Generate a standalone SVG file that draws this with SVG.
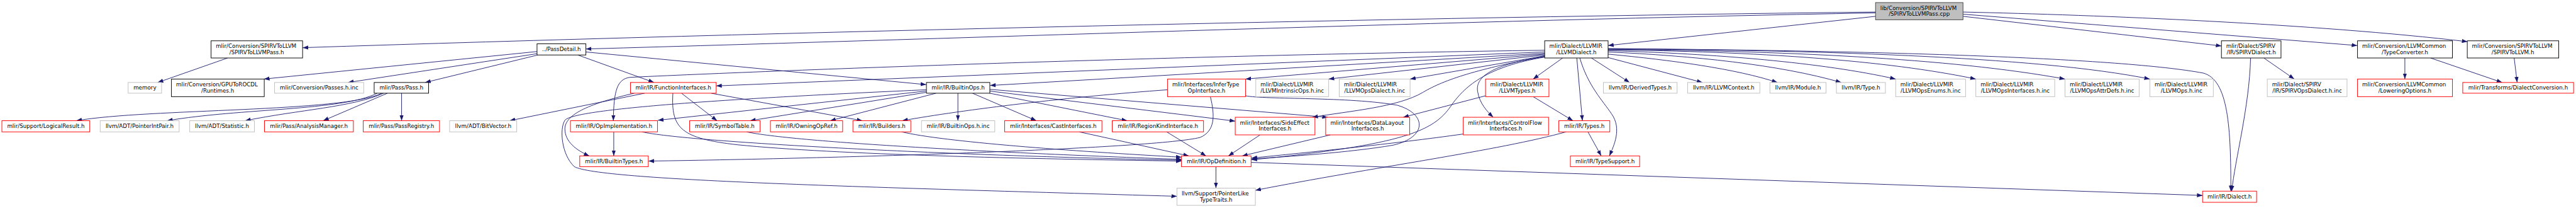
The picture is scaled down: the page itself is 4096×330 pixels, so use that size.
<svg xmlns="http://www.w3.org/2000/svg" width="4096" height="330" viewBox="0 0 4096 330">
<style>
.n rect{fill:#fff;stroke-width:1.4}
.r rect{stroke:#ff0000}
.g rect{stroke:#bfbfbf}
.b rect{stroke:#000}
.root rect{fill:#bfbfbf;stroke:#404040}
text{font-family:"DejaVu Sans",sans-serif;font-size:12.8px;fill:#000}
.m{text-anchor:middle}
#edges path{fill:none;stroke:#191970;stroke-width:1.35;marker-end:url(#a)}
</style>
<defs>
<marker id="a" viewBox="0 0 13 10" refX="13" refY="5" markerWidth="13" markerHeight="10" orient="auto" markerUnits="userSpaceOnUse"><path d="M0,0.3 L13,5 L0,9.7z" fill="#191970"/></marker>
</defs>
<rect width="4096" height="330" fill="#fff"/>
<g transform="scale(0.6815)">
<g id="edges">
<path d="M4376,28 C3300,40 1800,75 706,111"/>
<path d="M4376,30 C3400,48 2300,88 1367,114"/>
<path d="M4376,38 L3752,106"/>
<path d="M4580,38 L5183,107"/>
<path d="M4580,33 L5500,106"/>
<path d="M4580,28 C4900,35 5400,55 5757,97"/>
<path d="M531,135 L368,192"/>
<path d="M1253,120 L616,184"/>
<path d="M1253,125 L812,192"/>
<path d="M1255,128 L992,192"/>
<path d="M1348,128 L1526,192"/>
<path d="M1367,121 L2161,197"/>
<path d="M891,217 C800,262 350,252 178,281"/>
<path d="M880,217 C800,258 560,252 390,281"/>
<path d="M895,217 C820,250 700,255 572,281"/>
<path d="M904,217 L754,281"/>
<path d="M937,217 L937,281"/>
<path d="M1504,217 L1189,281"/>
<path d="M1480,217 C1380,240 1318,265 1318,300 C1318,330 1345,350 1375,363"/>
<path d="M1570,217 C1565,300 1590,322 1720,337 C1950,360 2400,370 2757,375"/>
<path d="M1590,217 L1673,281"/>
<path d="M1659,217 L2012,281"/>
<path d="M3604,117 C2800,128 1900,160 1470,180 C1440,184 1432,210 1431,281"/>
<path d="M3604,121 L1671,200"/>
<path d="M3604,124 L2310,199"/>
<path d="M3604,126 L2906,184"/>
<path d="M3604,128 L3100,184"/>
<path d="M3604,130 L3290,184"/>
<path d="M3604,131 C3450,160 3370,185 3320,215 C3260,250 3150,258 3062,273"/>
<path d="M3604,132 C3480,150 3440,180 3448,215 C3452,240 3470,260 3484,273"/>
<path d="M3604,133 C3470,155 3420,200 3390,240 C3350,300 3300,335 2920,372"/>
<path d="M3646,135 L3577,184"/>
<path d="M3679,135 L3692,281"/>
<path d="M3686,135 C3705,200 3740,235 3760,265 C3785,300 3765,340 3755,363"/>
<path d="M3577,225 L3670,281"/>
<path d="M3705,307 L3736,363"/>
<path d="M3654,307 C3500,350 3200,390 2929,443"/>
<path d="M3466,223 L3274,273"/>
<path d="M3414,312 C3250,335 3050,355 2920,368"/>
<path d="M2906,223 C2950,232 3150,225 3260,245 C3330,265 3330,320 3250,338 C3150,355 3000,365 2920,370"/>
<path d="M2724,209 C2500,225 2250,255 2105,281"/>
<path d="M2824,225 C2835,270 2835,305 2800,320 C2700,345 2000,368 1513,375"/>
<path d="M2235,217 L2235,281"/>
<path d="M2269,217 L2418,281"/>
<path d="M2309,217 L2630,281"/>
<path d="M2309,212 L2882,282"/>
<path d="M2309,208 L3098,273"/>
<path d="M2161,212 L1535,280"/>
<path d="M2161,215 L1750,281"/>
<path d="M2184,217 L1937,281"/>
<path d="M2161,209 C1800,225 1340,250 1318,280 C1305,300 1310,360 1340,388 C1400,420 2000,435 2746,457"/>
<path d="M2104,307 C2200,330 2500,352 2757,366"/>
<path d="M1742,307 C1850,330 2300,355 2757,371"/>
<path d="M1498,307 C1600,330 2200,362 2757,373"/>
<path d="M1432,307 L1432,363"/>
<path d="M2518,307 L2774,363"/>
<path d="M2722,307 L2814,363"/>
<path d="M2940,314 L2866,363"/>
<path d="M3104,314 L2898,363"/>
<path d="M2837,388 L2837,438"/>
<path d="M2919,378 L5139,455"/>
<path d="M3713,135 L3802,192"/>
<path d="M3752,134 L3972,192"/>
<path d="M3752,126 C3900,140 4050,160 4147,192"/>
<path d="M3752,121 C3950,130 4150,150 4296,192"/>
<path d="M3752,118 C4000,125 4250,145 4423,184"/>
<path d="M3752,116 C4100,120 4400,140 4610,184"/>
<path d="M3752,115 C4150,118 4550,135 4818,184"/>
<path d="M3752,114 C4200,116 4750,130 5016,184"/>
<path d="M3752,113 C4400,118 4950,135 5140,170 C5200,185 5205,300 5205,445"/>
<path d="M5282,135 L5353,184"/>
<path d="M5251,135 C5248,250 5215,370 5207,445"/>
<path d="M5611,135 L5611,184"/>
<path d="M5671,135 L5838,192"/>
<path d="M5866,135 L5873,192"/>
</g>
<g id="root" class="n root"><rect x="4376" y="6" width="204" height="40"/><text x="4387" y="23">lib/Conversion/SPIRVToLLVM</text><text class="m" x="4478" y="37">/SPIRVToLLVMPass.cpp</text></g>
<g id="passh" class="n b"><rect x="492.5" y="95" width="213.5" height="40"/><text x="503.5" y="112">mlir/Conversion/SPIRVToLLVM</text><text class="m" x="599" y="126">/SPIRVToLLVMPass.h</text></g>
<g id="passdetail" class="n b"><rect x="1253" y="102" width="114" height="26"/><text class="m" x="1310" y="119">../PassDetail.h</text></g>
<g id="llvmdialect" class="n b"><rect x="3604" y="95" width="148" height="40"/><text x="3615" y="112">mlir/Dialect/LLVMIR</text><text class="m" x="3678" y="126">/LLVMDialect.h</text></g>
<g id="spirvdialect" class="n b"><rect x="5183" y="95" width="139" height="40"/><text x="5194" y="112">mlir/Dialect/SPIRV</text><text class="m" x="5252.5" y="126">/IR/SPIRVDialect.h</text></g>
<g id="typeconverter" class="n b"><rect x="5500.5" y="95" width="221.5" height="40"/><text x="5511.5" y="112">mlir/Conversion/LLVMCommon</text><text class="m" x="5611" y="126">/TypeConverter.h</text></g>
<g id="spirvtollvm" class="n b"><rect x="5756.6" y="95" width="213.4" height="40"/><text x="5767.5" y="112">mlir/Conversion/SPIRVToLLVM</text><text class="m" x="5863" y="126">/SPIRVToLLVM.h</text></g>
<g id="memory" class="n g"><rect x="299" y="192" width="78" height="25"/><text class="m" x="338" y="209">memory</text></g>
<g id="runtimes" class="n b"><rect x="400" y="184" width="216.5" height="41"/><text x="411" y="201">mlir/Conversion/GPUToROCDL</text><text class="m" x="508" y="215">/Runtimes.h</text></g>
<g id="passesinc" class="n g"><rect x="640.6" y="192" width="208" height="25"/><text class="m" x="744.6" y="209">mlir/Conversion/Passes.h.inc</text></g>
<g id="pass" class="n b"><rect x="873" y="192" width="127" height="25"/><text class="m" x="936.5" y="209">mlir/Pass/Pass.h</text></g>
<g id="funcif" class="n r"><rect x="1471" y="192" width="200" height="25"/><text class="m" x="1571" y="209">mlir/IR/FunctionInterfaces.h</text></g>
<g id="builtinops" class="n b"><rect x="2161.5" y="192" width="148" height="25"/><text class="m" x="2235.5" y="209">mlir/IR/BuiltinOps.h</text></g>
<g id="infertype" class="n r"><rect x="2724" y="184" width="182" height="41"/><text x="2735" y="201">mlir/Interfaces/InferType</text><text class="m" x="2815" y="215">OpInterface.h</text></g>
<g id="intrinsic" class="n g"><rect x="2930" y="184" width="170" height="41"/><text x="2941" y="201">mlir/Dialect/LLVMIR</text><text class="m" x="3015" y="215">/LLVMIntrinsicOps.h.inc</text></g>
<g id="opsdialect" class="n g"><rect x="3124.7" y="184" width="165.3" height="41"/><text x="3135.7" y="201">mlir/Dialect/LLVMIR</text><text class="m" x="3207.3" y="215">/LLVMOpsDialect.h.inc</text></g>
<g id="llvmtypes" class="n r"><rect x="3466" y="184" width="148" height="41"/><text x="3477" y="201">mlir/Dialect/LLVMIR</text><text class="m" x="3540" y="215">/LLVMTypes.h</text></g>
<g id="derived" class="n g"><rect x="3741" y="192" width="172" height="25"/><text class="m" x="3827" y="209">llvm/IR/DerivedTypes.h</text></g>
<g id="context" class="n g"><rect x="3937.5" y="192" width="168.5" height="25"/><text class="m" x="4021.7" y="209">llvm/IR/LLVMContext.h</text></g>
<g id="module" class="n g"><rect x="4129.5" y="192" width="131" height="25"/><text class="m" x="4195" y="209">llvm/IR/Module.h</text></g>
<g id="type" class="n g"><rect x="4284.7" y="192" width="114.3" height="25"/><text class="m" x="4341.8" y="209">llvm/IR/Type.h</text></g>
<g id="enums" class="n g"><rect x="4423" y="184" width="163" height="41"/><text x="4434" y="201">mlir/Dialect/LLVMIR</text><text class="m" x="4504.5" y="215">/LLVMOpsEnums.h.inc</text></g>
<g id="opsinterfaces" class="n g"><rect x="4610" y="184" width="184" height="41"/><text x="4621" y="201">mlir/Dialect/LLVMIR</text><text class="m" x="4702" y="215">/LLVMOpsInterfaces.h.inc</text></g>
<g id="attrdefs" class="n g"><rect x="4818" y="184" width="173" height="41"/><text x="4829" y="201">mlir/Dialect/LLVMIR</text><text class="m" x="4904.5" y="215">/LLVMOpsAttrDefs.h.inc</text></g>
<g id="opsinc" class="n g"><rect x="5016" y="184" width="148" height="41"/><text x="5027" y="201">mlir/Dialect/LLVMIR</text><text class="m" x="5090" y="215">/LLVMOps.h.inc</text></g>
<g id="spirvopsdialect" class="n g"><rect x="5290" y="184" width="186" height="41"/><text x="5301" y="201">mlir/Dialect/SPIRV</text><text class="m" x="5383" y="215">/IR/SPIRVOpsDialect.h.inc</text></g>
<g id="lowering" class="n r"><rect x="5500.5" y="184" width="221.5" height="41"/><text x="5511.5" y="201">mlir/Conversion/LLVMCommon</text><text class="m" x="5611" y="215">/LoweringOptions.h</text></g>
<g id="dialectconv" class="n r"><rect x="5746" y="192" width="258.6" height="25"/><text class="m" x="5875.3" y="209">mlir/Transforms/DialectConversion.h</text></g>
<g id="logicalresult" class="n r"><rect x="4.4" y="281" width="205" height="26"/><text class="m" x="107" y="298">mlir/Support/LogicalResult.h</text></g>
<g id="pointerintpair" class="n g"><rect x="233.7" y="281" width="184.3" height="26"/><text class="m" x="325.8" y="298">llvm/ADT/PointerIntPair.h</text></g>
<g id="statistic" class="n g"><rect x="442.6" y="281" width="151" height="26"/><text class="m" x="518" y="298">llvm/ADT/Statistic.h</text></g>
<g id="analysis" class="n r"><rect x="617" y="281" width="207.4" height="26"/><text class="m" x="720.7" y="298">mlir/Pass/AnalysisManager.h</text></g>
<g id="passregistry" class="n r"><rect x="847.5" y="281" width="178" height="26"/><text class="m" x="936.5" y="298">mlir/Pass/PassRegistry.h</text></g>
<g id="bitvector" class="n g"><rect x="1049" y="281" width="156.6" height="26"/><text class="m" x="1127.3" y="298">llvm/ADT/BitVector.h</text></g>
<g id="opimpl" class="n r"><rect x="1331" y="281" width="203" height="26"/><text class="m" x="1432.5" y="298">mlir/IR/OpImplementation.h</text></g>
<g id="symboltable" class="n r"><rect x="1609" y="281" width="164.5" height="26"/><text class="m" x="1691" y="298">mlir/IR/SymbolTable.h</text></g>
<g id="owning" class="n r"><rect x="1797.6" y="281" width="168.4" height="26"/><text class="m" x="1881.8" y="298">mlir/IR/OwningOpRef.h</text></g>
<g id="builders" class="n r"><rect x="1990" y="281" width="135" height="26"/><text class="m" x="2057.5" y="298">mlir/IR/Builders.h</text></g>
<g id="builtinopsinc" class="n g"><rect x="2150" y="281" width="171" height="26"/><text class="m" x="2235.5" y="298">mlir/IR/BuiltinOps.h.inc</text></g>
<g id="cast" class="n r"><rect x="2344" y="281" width="227" height="26"/><text class="m" x="2457.5" y="298">mlir/Interfaces/CastInterfaces.h</text></g>
<g id="regionkind" class="n r"><rect x="2595" y="281" width="213" height="26"/><text class="m" x="2701.5" y="298">mlir/IR/RegionKindInterface.h</text></g>
<g id="sideeffect" class="n r"><rect x="2882" y="273" width="186" height="41"/><text x="2893" y="290">mlir/Interfaces/SideEffect</text><text class="m" x="2975" y="304">Interfaces.h</text></g>
<g id="datalayout" class="n r"><rect x="3093" y="273" width="196" height="41"/><text x="3104" y="290">mlir/Interfaces/DataLayout</text><text class="m" x="3191" y="304">Interfaces.h</text></g>
<g id="controlflow" class="n r"><rect x="3414" y="273" width="199" height="41"/><text x="3425" y="290">mlir/Interfaces/ControlFlow</text><text class="m" x="3513.5" y="304">Interfaces.h</text></g>
<g id="types" class="n r"><rect x="3637" y="281" width="119" height="26"/><text class="m" x="3696.5" y="298">mlir/IR/Types.h</text></g>
<g id="builtintypes" class="n r"><rect x="1352.6" y="363" width="160" height="25"/><text class="m" x="1432.6" y="380">mlir/IR/BuiltinTypes.h</text></g>
<g id="opdef" class="n r"><rect x="2756.6" y="363" width="162.4" height="25"/><text class="m" x="2838" y="380">mlir/IR/OpDefinition.h</text></g>
<g id="typesupport" class="n r"><rect x="3664" y="363" width="161.6" height="25"/><text class="m" x="3745" y="380">mlir/IR/TypeSupport.h</text></g>
<g id="pointerlike" class="n g"><rect x="2746" y="438" width="183" height="40"/><text x="2757" y="455">llvm/Support/PointerLike</text><text class="m" x="2837.5" y="469">TypeTraits.h</text></g>
<g id="dialect" class="n r"><rect x="5139" y="445" width="126" height="26"/><text class="m" x="5202" y="462">mlir/IR/Dialect.h</text></g>
</g>
</svg>
